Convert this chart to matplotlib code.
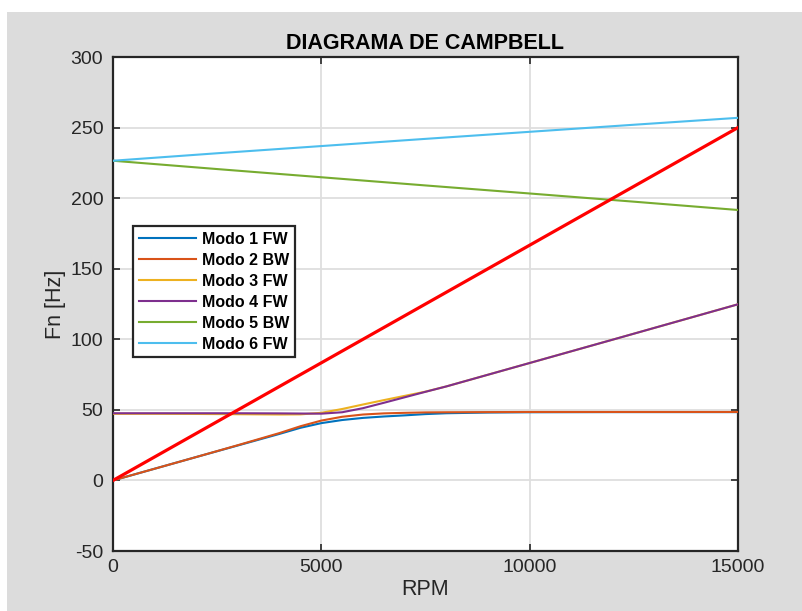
import matplotlib
matplotlib.use("Agg")
import matplotlib.pyplot as plt
from matplotlib.patches import Rectangle

plt.rcParams['font.family'] = ['Liberation Sans', 'DejaVu Sans']
plt.rcParams['axes.unicode_minus'] = False

# Rotor speed samples (RPM) for the low-frequency modes
rpm = [0, 1000, 2000, 3000, 4000, 4500, 5000, 5500, 6000, 6500, 7000,
       7500, 8000, 9000, 10000, 12000, 15000]

modo1_fw = [0, 8.3, 16.6, 24.8, 33.0, 37.3, 40.6, 42.8, 44.3, 45.3, 46.1,
            47.0, 47.6, 48.1, 48.3, 48.4, 48.4]
modo2_bw = [0, 8.3, 16.6, 25.0, 33.6, 38.4, 42.4, 45.1, 46.7, 47.5, 47.9,
            48.2, 48.3, 48.4, 48.5, 48.5, 48.5]
modo3_fw = [47.2, 47.2, 47.1, 46.9, 46.7, 46.8, 47.9, 50.6, 53.8, 56.9, 59.9,
            62.9, 66.6, 74.9, 83.2, 99.8, 124.8]
modo4_fw = [47.6, 47.6, 47.6, 47.6, 47.5, 47.4, 47.3, 48.3, 51.2, 55.0, 58.9,
            62.8, 66.6, 74.9, 83.2, 99.8, 124.8]

# Rotor speed samples for the high-frequency pair
rpm_alto = [0, 2500, 5000, 7500, 10000, 12500, 15000]
modo5_bw = [226.5, 220.6, 214.8, 209.0, 203.3, 197.5, 191.6]
modo6_fw = [226.5, 231.8, 236.9, 242.0, 247.0, 252.0, 256.9]

# 1X excitation line
rpm_1x = [0, 15000]
freq_1x = [0, 250]

etiquetas = ['Modo 1 FW', 'Modo 2 BW', 'Modo 3 FW', 'Modo 4 FW',
             'Modo 5 BW', 'Modo 6 FW']
colores = ['#0072BD', '#D95319', '#EDB120', '#7E2F8E', '#77AC30', '#4DBEEE']

x_ticks = [0, 5000, 10000, 15000]
y_ticks = [-50, 0, 50, 100, 150, 200, 250, 300]

W, H = 803, 611
fig = plt.figure(figsize=(W / 100, H / 100), dpi=100, facecolor='white')
fig.patches.append(Rectangle((7 / W, 0), 1 - 7 / W, (H - 12) / H,
                             transform=fig.transFigure, facecolor='#dcdcdc',
                             edgecolor='none', zorder=-10))

ax = fig.add_axes([113 / W, 60 / H, 625 / W, 494 / H])
ax.set_facecolor('white')

series = [(rpm, modo1_fw), (rpm, modo2_bw), (rpm, modo3_fw), (rpm, modo4_fw),
          (rpm_alto, modo5_bw), (rpm_alto, modo6_fw)]
for (xs, ys), lab, col in zip(series, etiquetas, colores):
    ax.plot(xs, ys, color=col, lw=1.5, label=lab, zorder=3)
ax.plot(rpm_1x, freq_1x, color='#FF0000', lw=2.3, zorder=4)

ax.set_xlim(0, 15000)
ax.set_ylim(-50, 300)
ax.set_xticks(x_ticks)
ax.set_yticks(y_ticks)
ax.grid(True, color='#dedede', lw=1.3, zorder=0)
ax.set_axisbelow(True)

for s in ax.spines.values():
    s.set_color('#262626')
    s.set_linewidth(1.6)
ax.tick_params(direction='in', length=5, width=1.2, color='#262626',
               top=True, right=True, labelsize=14, labelcolor='#262626')
ax.tick_params(axis='x', pad=6)
ax.tick_params(axis='y', pad=7)

ax.set_title('DIAGRAMA DE CAMPBELL', fontsize=15.5, fontweight='bold',
             color='black', pad=6)
ax.set_xlabel('RPM', fontsize=15.5, color='#262626', labelpad=2)
ax.set_ylabel('Fn [Hz]', fontsize=15.5, color='#262626', labelpad=3)

leg = ax.legend(loc='upper left', bbox_to_anchor=(0.032, 0.658),
                borderaxespad=0, fancybox=False, framealpha=1,
                edgecolor='#262626', prop={'weight': 'bold', 'size': 11.5},
                handlelength=3.6, handletextpad=0.35, labelspacing=0.38,
                borderpad=0.35)
leg.get_frame().set_linewidth(1.6)
leg.set_zorder(10)

fig.savefig('out.png', dpi=100, facecolor=fig.get_facecolor())
